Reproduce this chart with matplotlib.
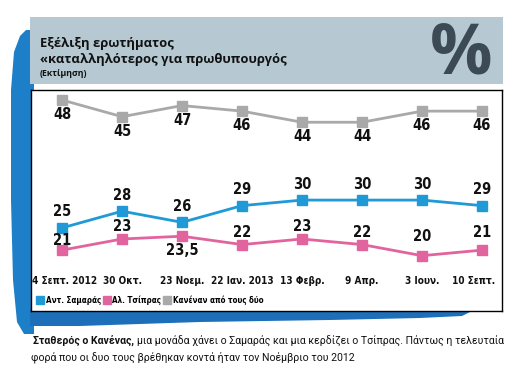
import matplotlib
matplotlib.use("Agg")
import matplotlib.pyplot as plt
from matplotlib.patches import Polygon, Rectangle
from matplotlib.lines import Line2D
from matplotlib import font_manager as fm

W, H = 521, 382
names = {f.name for f in fm.fontManager.ttflist}
STRETCH = 'normal'
if 'Liberation Sans Narrow' in names:
    NARROW = 'Liberation Sans Narrow'
elif any(f.name == 'DejaVu Sans' and 'ondensed' in f.fname for f in fm.fontManager.ttflist):
    NARROW = 'DejaVu Sans'
    STRETCH = 'condensed'
else:
    NARROW = 'Liberation Sans'
HUM = 'Open Sans' if 'Open Sans' in names else 'DejaVu Sans'
CAP = 'Roboto' if 'Roboto' in names else 'Liberation Sans'

# ---- data ----
dates = ["4 Σεπτ. 2012", "30 Οκτ.", "23 Νοεμ.", "22 Ιαν. 2013", "13 Φεβρ.",
         "9 Απρ.", "3 Ιουν.", "10 Σεπτ."]
samaras = [25, 28, 26, 29, 30, 30, 30, 29]
tsipras = [21, 23, 23.5, 22, 23, 22, 20, 21]
kanenas = [48, 45, 47, 46, 44, 44, 46, 46]
samaras_labels = ["25", "28", "26", "29", "30", "30", "30", "29"]
tsipras_labels = ["21", "23", "23,5", "22", "23", "22", "20", "21"]
kanenas_labels = ["48", "45", "47", "46", "44", "44", "46", "46"]
series_names = ["Αντ. Σαμαράς", "Αλ. Τσίπρας", "Κανέναν από τους δύο"]

# label offsets (points) - style
tsipras_dy = [7, 9, -10, 9, 9, 9, 14, 13]

BLUE = '#1f9ad7'
PINK = '#e2649f'
GRAY = '#a9a9a9'

fig = plt.figure(figsize=(W / 100, H / 100), dpi=100)
fig.patch.set_facecolor('white')

def fp(x, y):
    return (x / W, 1 - y / H)

# left blue swoosh
left_sw = [(26, 30), (20, 36), (14, 52), (11, 90), (11, 200), (13, 280), (17, 322),
           (24, 334), (34, 334), (34, 30)]
fig.patches.append(Polygon([fp(*p) for p in left_sw], closed=True,
                           transform=fig.transFigure, facecolor='#1c7fc8',
                           edgecolor='none', zorder=0))
# bottom swoosh
bot_sw = [(30, 308), (30, 326), (80, 326), (200, 322), (330, 320), (420, 318),
          (462, 316), (470, 312), (470, 308)]
fig.patches.append(Polygon([fp(*p) for p in bot_sw], closed=True,
                           transform=fig.transFigure, facecolor='#1d6fba',
                           edgecolor='none', zorder=0))

# title box
x0, y0 = fp(30, 84)
fig.patches.append(Rectangle((x0, y0), 473 / W, 67 / H, transform=fig.transFigure,
                             facecolor='#b6c9d3', edgecolor='none', zorder=1))
fig.text(*fp(40, 44), "Εξέλιξη ερωτήματος", fontsize=9.4, fontweight='bold',
         family=HUM, color='#111111', va='center', ha='left')
fig.text(*fp(40, 60), "«καταλληλότερος για πρωθυπουργός", fontsize=9.4,
         fontweight='bold', family=HUM, color='#111111', va='center', ha='left')
fig.text(*fp(40, 74), "(Εκτίμηση)", fontsize=6.3, fontweight='bold',
         family=HUM, color='#111111', va='center', ha='left')
fig.text(*fp(461, 56), "%", fontsize=50, fontweight='bold', family=HUM,
         color='#3b4a54', va='center', ha='center')

# chart axes
ax = fig.add_axes([31 / W, 1 - 311 / H, 471 / W, 221 / H])
ax.set_facecolor('white')
ax.set_zorder(2)
ax.set_xlim(-0.517, 7.333)
ax.set_ylim(10.05, 49.8)
for s in ax.spines.values():
    s.set_linewidth(1.0)
    s.set_color('black')
ax.set_xticks([])
ax.set_yticks([])

x = list(range(len(dates)))
lw, ms = 2.0, 7
ax.plot(x, kanenas, color=GRAY, lw=lw, marker='s', ms=ms, zorder=3)
ax.plot(x, samaras, color=BLUE, lw=lw, marker='s', ms=ms, zorder=3)
ax.plot(x, tsipras, color=PINK, lw=lw, marker='s', ms=ms, zorder=3)

lab_kw = dict(fontsize=10.5, fontweight='bold', family=NARROW, fontstretch=STRETCH,
              color='#111111', ha='center', va='center', textcoords='offset points')
for i in x:
    ax.annotate(kanenas_labels[i], (i, kanenas[i]), xytext=(0, -10.5), **lab_kw)
    ax.annotate(samaras_labels[i], (i, samaras[i]), xytext=(0, 11.5), **lab_kw)
    ax.annotate(tsipras_labels[i], (i, tsipras[i]), xytext=(0, tsipras_dy[i]), **lab_kw)

trans = ax.get_xaxis_transform()
for i, d in enumerate(dates):
    dx = -6 if i == len(dates) - 1 else (2 if i == 0 else 0)
    ax.annotate(d, (i, 0.136), xycoords=trans, xytext=(dx, 0),
                textcoords='offset points', fontsize=7.2, fontweight='bold',
                family=NARROW, fontstretch=STRETCH, color='#111111',
                ha='center', va='center')

handles = [Line2D([], [], ls='none', marker='s', ms=5.5, color=c)
           for c in (BLUE, PINK, GRAY)]
ax.legend(handles, series_names, loc='center left', bbox_to_anchor=(0.008, 0.05),
          ncol=3, frameon=False, handlelength=0.6, handletextpad=0.4,
          columnspacing=0.4, borderaxespad=0,
          prop=dict(family=NARROW, weight='bold', size=5.8, stretch=STRETCH))

# caption
r = fig.canvas.get_renderer()
t1 = fig.text(*fp(33, 341), "Σταθερός ο Κανένας,", fontsize=7.6, fontweight='bold',
              family=CAP, color='#111111', va='center', ha='left')
bb = t1.get_window_extent(renderer=r)
fig.text((bb.x1 + 3) / W, 1 - 341 / H,
         "μια μονάδα χάνει ο Σαμαράς και μια κερδίζει ο Τσίπρας. Πάντως η τελευταία",
         fontsize=7.6, family=CAP, color='#111111', va='center', ha='left')
fig.text(*fp(31, 357), "φορά που οι δυο τους βρέθηκαν κοντά ήταν τον Νοέμβριο του 2012",
         fontsize=7.6, family=CAP, color='#111111', va='center', ha='left')

fig.savefig('out.png', dpi=100)
